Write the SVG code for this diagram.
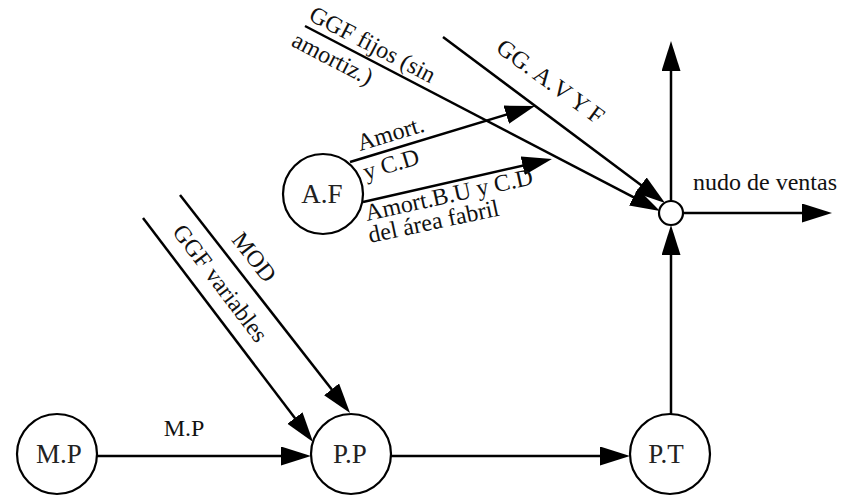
<svg xmlns="http://www.w3.org/2000/svg" width="851" height="496" viewBox="0 0 851 496">
<style>
.node{fill:#fff;stroke:#000;stroke-width:2.2}
.edge{fill:none;stroke:#000;stroke-width:2.5;marker-end:url(#ah)}
.nl{font-family:"Liberation Serif","Times New Roman",serif;font-size:27px;fill:#222;text-anchor:middle}
.el{font-family:"Liberation Serif","Times New Roman",serif;font-size:24px;fill:#111}
</style>
<defs>
<marker id="ah" markerUnits="userSpaceOnUse" markerWidth="32" markerHeight="20" refX="20" refY="9.5" orient="auto" viewBox="0 0 32 20">
<path d="M0,0 L30,9.5 L0,19 z" fill="#000"/>
</marker>
</defs>
<rect width="851" height="496" fill="#fff"/>
<g id="connectors">
<path class="edge" d="M97,456 L301,456"/>
<path class="edge" d="M391,456 L620,456"/>
<path class="edge" d="M671,414 L671,235"/>
<path class="edge" d="M671,201 L671,51"/>
<path class="edge" d="M683,213 L822,213"/>
<path class="edge" d="M305,26 L651.1,206.4"/>
<path class="edge" d="M443,37 L657,197"/>
<path class="edge" d="M350,162 L525.4,108.9"/>
<path class="edge" d="M363,202 L542.2,161.2"/>
<path class="edge" d="M180,195 L343.9,405.1"/>
<path class="edge" d="M143,218 L307,434"/>
<text class="el" x="184" y="436" text-anchor="middle">M.P</text>
<text class="el" x="693" y="190">nudo de ventas</text>
<text class="el" text-anchor="middle" transform="translate(369,51.5) rotate(27.5)">GGF fijos (sin</text>
<text class="el" text-anchor="middle" transform="translate(329,65.5) rotate(27.5)">amortiz.)</text>
<text class="el" text-anchor="middle" transform="translate(546,88) rotate(36)">GG. A.V Y F</text>
<text class="el" transform="translate(360,151) rotate(-16.8)">Amort.</text>
<text class="el" transform="translate(366,180) rotate(-16.8)">y C.D</text>
<text class="el" transform="translate(367,221) rotate(-12.5)">Amort.B.U y C.D</text>
<text class="el" transform="translate(370,243) rotate(-12)">del área fabril</text>
<text class="el" text-anchor="middle" transform="translate(248,262) rotate(52)">MOD</text>
<text class="el" text-anchor="middle" transform="translate(214,288) rotate(52.8)">GGF variables</text>
</g>
<g id="MP"><circle class="node" cx="57" cy="454" r="40"/><text class="nl" x="59" y="463">M.P</text></g>
<g id="PP"><circle class="node" cx="351" cy="454" r="40"/><text class="nl" x="350" y="463">P.P</text></g>
<g id="PT"><circle class="node" cx="670" cy="454" r="40"/><text class="nl" x="666" y="463">P.T</text></g>
<g id="AF"><circle class="node" cx="323" cy="194" r="40"/><text class="nl" x="322" y="203">A.F</text></g>
<g id="nudo"><circle class="node" cx="671" cy="213" r="12"/></g>
</svg>
